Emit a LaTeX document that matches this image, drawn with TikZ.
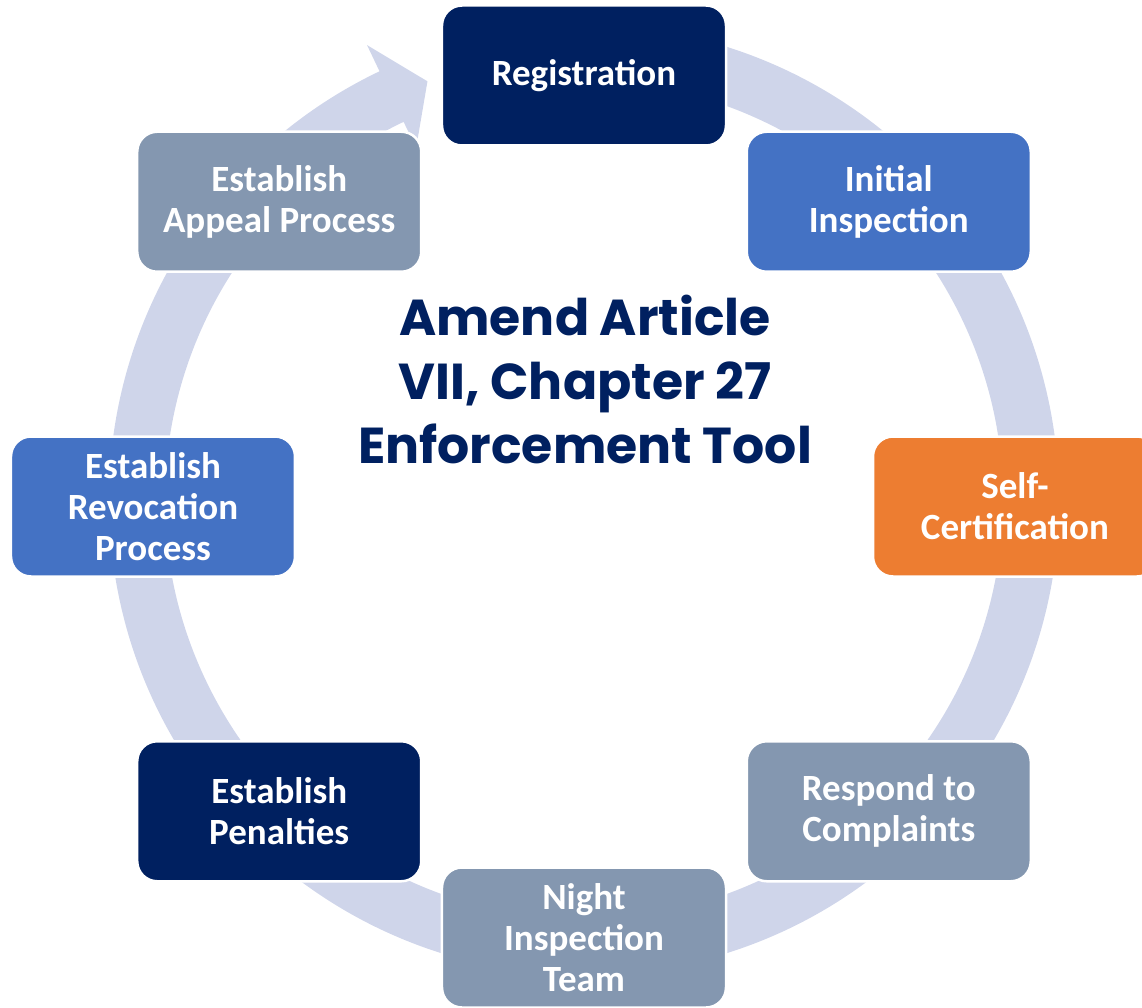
\documentclass[tikz,border=0pt]{standalone}
\usepackage{fontspec}
\setmainfont{Carlito}
\newfontfamily\gothic{Poppins}
\definecolor{navy}{HTML}{002060}
\definecolor{midblue}{HTML}{4472C4}
\definecolor{selforange}{HTML}{ED7D31}
\definecolor{slate}{HTML}{8497B0}
\definecolor{ringblue}{HTML}{CFD5EA}
\begin{document}
\begin{tikzpicture}[font=\bfseries\fontsize{37}{41}\selectfont, text=white,
    phase/.style={draw=white, line width=2.5pt, rounded corners=20pt,
      minimum width=284pt, minimum height=140pt, align=center}]
  \useasboundingbox (-584pt,-500.5pt) rectangle (558pt,506.5pt);
  % ring arrow behind the boxes
  \fill[ringblue, shift={(0,6.5pt)}] (95:475pt)
      arc[start angle=95, end angle=-244.5, radius=475pt]
      -- (115.5:504pt) -- (110.5:447pt) -- (115.5:390pt) -- (-244.5:419pt)
      arc[start angle=-244.5, end angle=95, radius=419pt] -- cycle;
  \foreach \ang/\col/\name/\txt in {
      90/navy/reg/Registration,
      45/midblue/init/{Initial\\Inspection},
      0/selforange/self/{Self-\\Certification},
      -45/slate/resp/{Respond to\\Complaints},
      -90/slate/night/{Night\\Inspection\\Team},
      -135/navy/pen/{Establish\\Penalties},
      180/midblue/revoc/{Establish\\Revocation\\Process},
      135/slate/appeal/{Establish\\Appeal Process}}{
    \node[phase, fill=\col] (\name) at (\ang:431pt) {\txt};
  }
  \node[text=navy, align=center, font=\gothic\bfseries\fontsize{50.5}{64}\selectfont]
      (title) at (1pt,127pt) {Amend Article\\VII, Chapter 27\\Enforcement Tool};
\end{tikzpicture}
\end{document}
